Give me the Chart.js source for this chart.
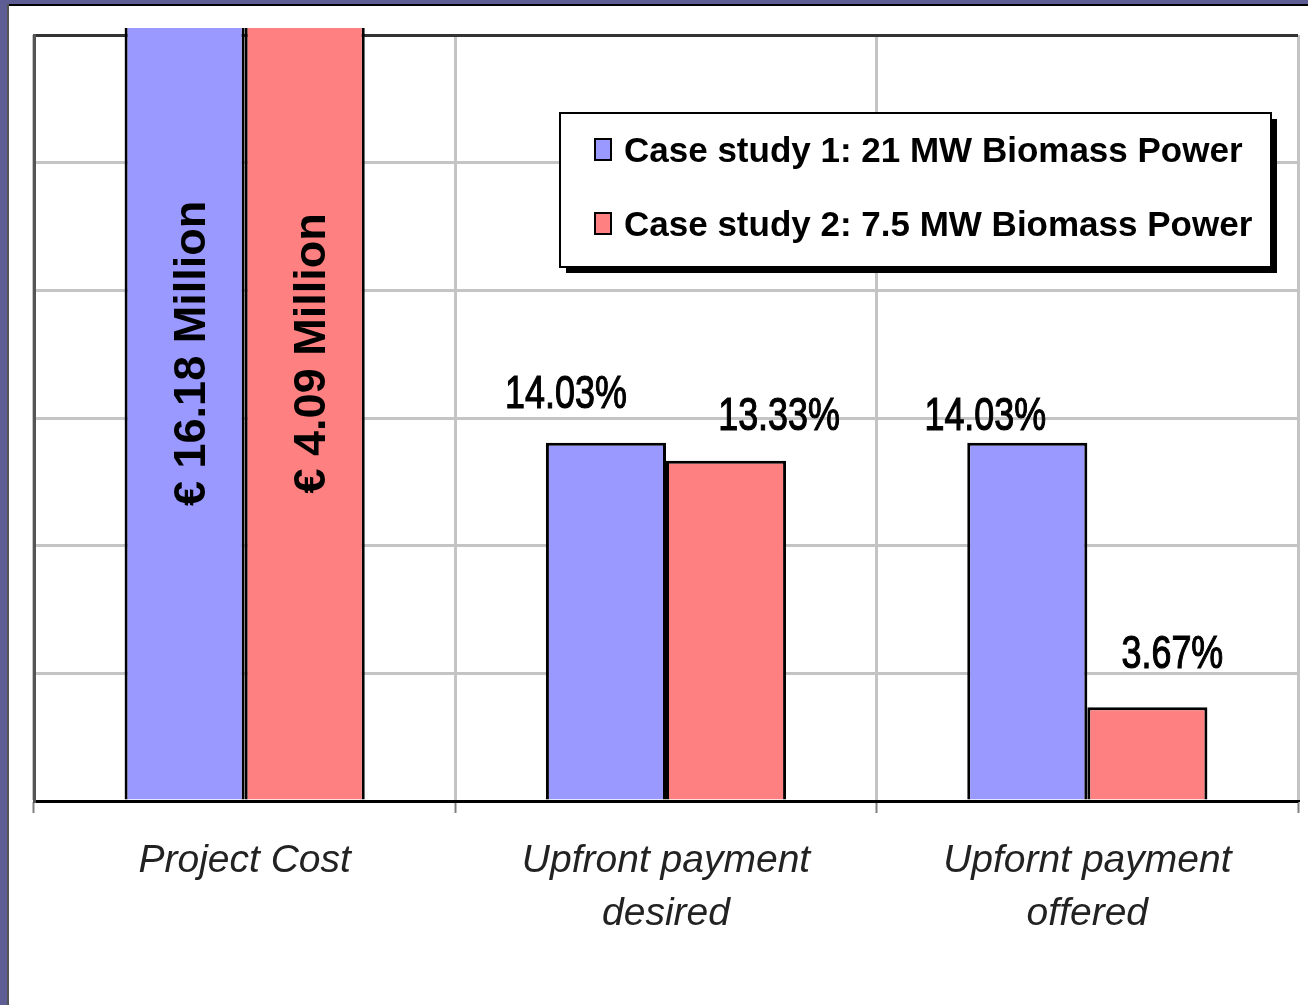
<!DOCTYPE html>
<html>
<head>
<meta charset="utf-8">
<script src="https://cdn.jsdelivr.net/npm/chart.js@4.4.0/dist/chart.umd.min.js"></script>
<style>
  html, body { margin: 0; padding: 0; background: #fff; }
  canvas { display: block; }
</style>
</head>
<body>
<canvas id="biomassChart" width="1308" height="1005"></canvas>
<script>
// categories and values
let categories = [["Project Cost"], ["Upfront payment", "desired"], ["Upfornt payment", "offered"]];
let seriesNames = ["Case study 1: 21 MW Biomass Power", "Case study 2: 7.5 MW Biomass Power"];
let caseStudy1 = [35, 14.03, 14.03];
let caseStudy2 = [35, 13.33, 3.67];
let caseStudy1Labels = ["€ 16.18 Million", "14.03%", "14.03%"];
let caseStudy2Labels = ["€ 4.09 Million", "13.33%", "3.67%"];
let yMin = 0;
let yMax = 30;
let yStep = 5;

const FONT = "'Liberation Sans', Arial, sans-serif";

// hand placed value labels (offset from the top centre of each bar)
const labelNudge = [
    [null, { dx: -40, dy: -35 }, { dx: -42, dy: -13 }],
    [null, { dx: 53, dy: -31 }, { dx: 25, dy: -39 }],
];

const slideFrame = {
    id: "slideFrame",
    beforeDraw(chart) {
        const ctx = chart.ctx;
        ctx.save();
        ctx.fillStyle = "#ffffff";
        ctx.fillRect(0, 0, chart.width, chart.height);
        ctx.fillStyle = "#5e5e94";
        ctx.fillRect(0, 0, chart.width, 4);
        ctx.fillRect(0, 0, 7, chart.height);
        ctx.fillStyle = "#000000";
        ctx.fillRect(7, 4, chart.width - 7, 2);
        ctx.fillStyle = "#555555";
        ctx.fillRect(7, 4, 2, chart.height - 4);
        ctx.restore();
    },
};

const valueLabels = {
    id: "valueLabels",
    afterDatasetsDraw(chart) {
        const ctx = chart.ctx;
        const allLabels = [caseStudy1Labels, caseStudy2Labels];
        ctx.save();
        ctx.fillStyle = "#000000";
        ctx.strokeStyle = "#000000";
        chart.data.datasets.forEach((ds, di) => {
            chart.getDatasetMeta(di).data.forEach((bar, i) => {
                const text = allLabels[di][i];
                ctx.save();
                if (i === 0) {
                    // vertical label in the middle of the (overflowing) bar
                    ctx.font = "bold 45px " + FONT;
                    ctx.textAlign = "center";
                    ctx.textBaseline = "alphabetic";
                    ctx.translate(bar.x + 20, (bar.y + bar.base) / 2);
                    ctx.rotate(-Math.PI / 2);
                    ctx.fillText(text, 0, 0);
                } else {
                    const n = labelNudge[di][i];
                    ctx.font = "46px " + FONT;
                    ctx.textAlign = "center";
                    ctx.textBaseline = "alphabetic";
                    ctx.translate(bar.x + n.dx, bar.y + n.dy);
                    ctx.scale(0.78, 1);
                    ctx.lineWidth = 1.2;
                    ctx.fillText(text, 0, 0);
                    ctx.strokeText(text, 0, 0);
                }
                ctx.restore();
            });
        });
        ctx.restore();
    },
};

const boxLegend = {
    id: "boxLegend",
    afterDraw(chart) {
        const ctx = chart.ctx;
        const box = { left: 560, top: 113, right: 1271, bottom: 267 };
        const w = box.right - box.left;
        const h = box.bottom - box.top;
        ctx.save();
        ctx.fillStyle = "#000000";
        ctx.fillRect(box.left + 6, box.top + 6, w, h);
        ctx.fillStyle = "#ffffff";
        ctx.fillRect(box.left, box.top, w, h);
        ctx.strokeStyle = "#000000";
        ctx.lineWidth = 2;
        ctx.strokeRect(box.left, box.top, w, h);

        ctx.font = "bold 35px " + FONT;
        ctx.textAlign = "left";
        ctx.textBaseline = "alphabetic";
        const rows = [162, 236];
        chart.data.datasets.forEach((ds, di) => {
            const base = rows[di];
            ctx.fillStyle = ds.backgroundColor;
            ctx.fillRect(595, base - 23, 16, 21);
            ctx.lineWidth = 2;
            ctx.strokeStyle = "#000000";
            ctx.strokeRect(595, base - 23, 16, 21);
            ctx.fillStyle = "#000000";
            ctx.fillText(ds.label, 624, base);
        });
        ctx.restore();
    },
};

let ctx = document.getElementById("biomassChart").getContext("2d");

let biomassChart = new Chart(ctx, {
    type: "bar",
    data: {
        labels: categories,
        datasets: [
            {
                label: seriesNames[0],
                data: caseStudy1,
                backgroundColor: "#9999ff",
                borderColor: "#000000",
                borderWidth: 3,
                categoryPercentage: 0.57,
                barPercentage: 1.0,
                clip: { left: 0, top: 7, right: 0, bottom: 0 },
            },
            {
                label: seriesNames[1],
                data: caseStudy2,
                backgroundColor: "#ff8080",
                borderColor: "#000000",
                borderWidth: 3,
                categoryPercentage: 0.57,
                barPercentage: 1.0,
                clip: { left: 0, top: 7, right: 0, bottom: 0 },
            },
        ],
    },
    options: {
        responsive: false,
        animation: false,
        devicePixelRatio: 1,
        layout: {
            padding: { top: 35, right: 10, left: 0, bottom: 0 },
        },
        plugins: {
            legend: { display: false },
            tooltip: { enabled: false },
        },
        scales: {
            x: {
                afterFit: (scale) => { scale.height = 204; },
                grid: {
                    offset: true,
                    color: (c) => (c.index === 3 ? "#a0a0a0" : "#c4c4c4"),
                    lineWidth: 3,
                    tickLength: 12,
                    tickColor: "#808080",
                    tickWidth: 2,
                },
                border: { display: true, color: "#000000", width: 2 },
                ticks: {
                    color: "#222222",
                    padding: 22,
                    font: { family: FONT, size: 39, style: "italic", lineHeight: 1.36 },
                },
            },
            y: {
                min: yMin,
                max: yMax,
                afterFit: (scale) => { scale.width = 34; },
                grid: {
                    color: (c) => {
                        if (c.tick.value === yMax) return "#333333";
                        if (c.tick.value === yMin) return "#000000";
                        return "#c4c4c4";
                    },
                    lineWidth: 3,
                    drawTicks: false,
                },
                border: { display: true, color: "#555555", width: 3 },
                ticks: { display: false, stepSize: yStep },
            },
        },
    },
    plugins: [slideFrame, valueLabels, boxLegend],
});
</script>
</body>
</html>
